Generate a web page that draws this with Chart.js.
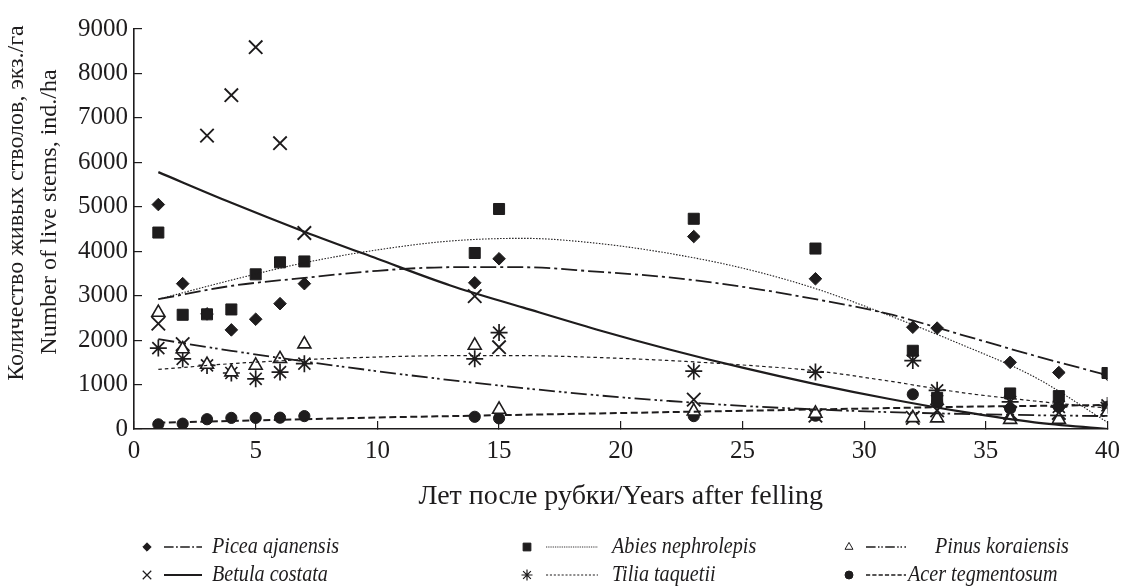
<!DOCTYPE html>
<html>
<head>
<meta charset="utf-8">
<script src="https://cdn.jsdelivr.net/npm/chart.js@4.4.0/dist/chart.umd.min.js"></script>
<style>
html,body{margin:0;padding:0;background:#fff;}
#wrap{width:1135px;height:586px;position:relative;}
</style>
</head>
<body>
<div id="wrap"><canvas id="c" width="1135" height="586"></canvas></div>
<script>
// ---------- DATA ----------
const years = [1, 2, 3, 4, 5, 6, 7, 14, 15, 23, 28, 32, 33, 36, 38, 40];

const piceaPoints  = [5050, 3270, 2590, 2230, 2470, 2820, 3270, 3290, 3830, 4330, 3380, 2290, 2270, 1500, 1270, 1230];
const abiesPoints  = [4420, 2570, 2580, 2690, 3480, 3750, 3770, 3960, 4950, 4730, 4060, 1760, 700, 800, 740, 1260];
const pinusPoints  = [2620, 1800, 1450, 1280, 1430, 1580, 1910, 1880, 440, 400, 350, 250, 245, 210, 215, 380];
const betulaPoints = [2370, 1910, 6600, 7510, 8590, 6430, 4410, 2990, 1840, 660, 300, 250, 420, 360, 360, 460];
const tiliaPoints  = [1820, 1580, 1430, 1260, 1130, 1280, 1470, 1580, 2170, 1300, 1280, 1540, 870, 610, 500, 530];
const acerPoints   = [105, 120, 220, 250, 250, 255, 290, 275, 240, 290, 300, 780, 600, 460, 500, 500];

// trend curves at these years
const trendYears  = [1, 4, 7, 10, 13, 16, 19, 22, 25, 28, 31, 34, 37, 40];
const piceaTrend  = [2920, 3220, 3400, 3560, 3640, 3640, 3540, 3410, 3200, 2920, 2590, 2120, 1650, 1210];
const abiesTrend  = [2920, 3350, 3740, 4030, 4230, 4290, 4180, 3950, 3620, 3160, 2560, 1900, 1170, 150];
const pinusTrend  = [2020, 1760, 1520, 1300, 1100, 920, 760, 630, 520, 440, 380, 340, 310, 290];
const betulaTrend = [5780, 5090, 4440, 3830, 3230, 2730, 2240, 1790, 1380, 1010, 680, 390, 150, 0];
const tiliaTrend  = [1340, 1470, 1560, 1620, 1650, 1650, 1610, 1540, 1440, 1310, 1080, 820, 630, 470];
const acerTrend   = [140, 180, 220, 260, 290, 320, 350, 380, 410, 440, 470, 500, 520, 540];

const speciesNames = ['Picea ajanensis', 'Abies nephrolepis', 'Pinus koraiensis',
                      'Betula costata', 'Tilia taquetii', 'Acer tegmentosum'];

const xTickValues = [0, 5, 10, 15, 20, 25, 30, 35, 40];
const yTickValues = [0, 1000, 2000, 3000, 4000, 5000, 6000, 7000, 8000, 9000];

const xTitle = 'Лет после рубки/Years after felling';
const yTitleLines = ['Количество живых стволов, экз./га', 'Number of live stems, ind./ha'];

// ---------- STYLES ----------
const INK = '#1e1c1d';
const FONT = "'Liberation Serif', 'Times New Roman', serif";

const styles = [
  { point: 'rectRot',  radius: 6.3, fill: INK,    pbw: 1,   dash: [16, 4, 3, 4],           lw: 1.8, lr: 4.2 },
  { point: 'rect',     radius: 7.8, fill: INK,    pbw: 1,   dash: [1.5, 1.5],              lw: 1.1, lr: 5.5 },
  { point: 'triangle', radius: 7.5, fill: '#fff', pbw: 1.6, dash: [16, 4, 2.5, 3, 2.5, 4], lw: 1.8, lr: 4.6 },
  { point: 'crossRot', radius: 9.5, fill: INK,    pbw: 1.9, dash: [],                      lw: 2.2, lr: 6 },
  { point: 'star',     radius: 8.5, fill: INK,    pbw: 1.7, dash: [3.5, 3],                lw: 1.2, lr: 5.5 },
  { point: 'circle',   radius: 5.6, fill: INK,    pbw: 1,   dash: [7, 3.5],                lw: 2,   lr: 4 }
];

const pointSets = [piceaPoints, abiesPoints, pinusPoints, betulaPoints, tiliaPoints, acerPoints];
const trendSets = [piceaTrend, abiesTrend, pinusTrend, betulaTrend, tiliaTrend, acerTrend];

const toXY = (xs, ys) => xs.map((x, i) => ({ x: x, y: ys[i] }));

const datasets = [];
trendSets.forEach((t, i) => {
  datasets.push({
    label: speciesNames[i] + ' trend',
    data: toXY(trendYears, t),
    showLine: true,
    borderColor: INK,
    borderWidth: styles[i].lw,
    borderDash: styles[i].dash,
    pointRadius: 0,
    cubicInterpolationMode: 'monotone',
    fill: false
  });
});
pointSets.forEach((p, i) => {
  datasets.push({
    label: speciesNames[i],
    data: toXY(years, p),
    showLine: false,
    pointStyle: styles[i].point,
    pointRadius: styles[i].radius,
    pointBackgroundColor: styles[i].fill,
    pointBorderColor: INK,
    pointBorderWidth: styles[i].pbw
  });
});

// ---------- LAYOUT ----------
const legendRowsY = [547, 575];
const legendMarkerX = [147, 527, 849];
const legendLineX = [[164, 202], [546, 598], [866, 906]];
const legendTextX = [[212, 612, 935], [212, 612, 908]];
const yTitlePos = [[17, 203], [50, 212]];

const yTitlePlugin = {
  id: 'yTitle',
  afterDraw(chart) {
    const ctx = chart.ctx;
    ctx.save();
    ctx.fillStyle = INK;
    ctx.font = '24px ' + FONT;
    ctx.textAlign = 'center';
    ctx.textBaseline = 'middle';
    yTitleLines.forEach((line, i) => {
      ctx.save();
      ctx.translate(yTitlePos[i][0], yTitlePos[i][1]);
      ctx.rotate(-Math.PI / 2);
      ctx.fillText(line, 0, 0);
      ctx.restore();
    });
    ctx.restore();
  }
};

const speciesLegend = {
  id: 'speciesLegend',
  afterDraw(chart) {
    const ctx = chart.ctx;
    ctx.save();
    speciesNames.forEach((name, i) => {
      const col = i % 3, row = Math.floor(i / 3);
      const y = legendRowsY[row];
      const st = styles[i];
      // marker
      ctx.save();
      ctx.fillStyle = st.fill;
      ctx.strokeStyle = INK;
      ctx.lineWidth = (st.point === 'crossRot' || st.point === 'star') ? 1.2 : 1;
      Chart.helpers.drawPoint(ctx, { pointStyle: st.point, radius: st.lr, rotation: 0, borderWidth: ctx.lineWidth }, legendMarkerX[col], y);
      ctx.restore();
      // line sample
      ctx.save();
      ctx.strokeStyle = INK;
      ctx.lineWidth = Math.max(1, st.lw * 0.85);
      ctx.setLineDash(st.dash.map(d => d * 0.6));
      ctx.beginPath();
      ctx.moveTo(legendLineX[col][0], y);
      ctx.lineTo(legendLineX[col][1], y);
      ctx.stroke();
      ctx.restore();
      // text (slightly condensed italic)
      ctx.save();
      ctx.fillStyle = INK;
      ctx.font = 'italic 24px ' + FONT;
      ctx.textBaseline = 'middle';
      ctx.textAlign = 'left';
      ctx.translate(legendTextX[row][col], y);
      ctx.scale(0.84, 1);
      ctx.fillText(name, 0, 0);
      ctx.restore();
    });
    ctx.restore();
  }
};

new Chart(document.getElementById('c'), {
  type: 'scatter',
  data: { datasets: datasets },
  plugins: [speciesLegend, yTitlePlugin],
  options: {
    responsive: false,
    animation: false,
    devicePixelRatio: 1,
    layout: { padding: { top: 26, right: 23, left: 0, bottom: 0 } },
    plugins: { legend: { display: false }, tooltip: { enabled: false } },
    scales: {
      x: {
        type: 'linear',
        min: 0, max: 40,
        afterFit(scale) { scale.height = 157; },
        afterBuildTicks(scale) { scale.ticks = xTickValues.map(v => ({ value: v })); },
        ticks: { color: INK, font: { family: FONT, size: 25 }, padding: 15, maxRotation: 0,
                 callback: v => String(v) },
        grid: { drawOnChartArea: false, drawTicks: true, tickLength: -8, color: INK, lineWidth: 1.2 },
        border: { display: true, color: INK, width: 1.6 },
        title: { display: true, text: xTitle, color: INK, font: { family: FONT, size: 28, lineHeight: 1.2 }, padding: { top: 0, bottom: 72.2 } }
      },
      y: {
        type: 'linear',
        min: 0, max: 9000,
        afterFit(scale) { scale.width = 134; },
        afterBuildTicks(scale) { scale.ticks = yTickValues.map(v => ({ value: v })); },
        ticks: { color: INK, font: { family: FONT, size: 25 }, padding: 14,
                 callback: v => String(v) },
        grid: { drawOnChartArea: false, drawTicks: true, tickLength: -8, color: INK, lineWidth: 1.2 },
        border: { display: true, color: INK, width: 1.6 },
        title: { display: false }
      }
    }
  }
});
</script>
</body>
</html>
